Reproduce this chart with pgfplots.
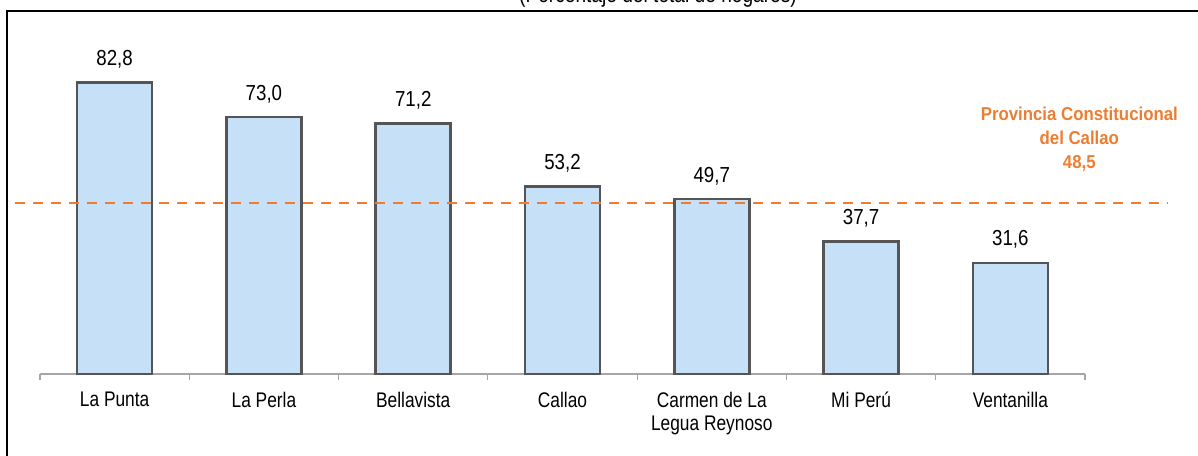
\documentclass[border=0pt]{standalone}
\usepackage{fontspec}
\setmainfont{Liberation Sans}
\newfontfamily\lblfont{Liberation Sans}[FakeStretch=0.82]
\newfontfamily\valfont{Liberation Sans}[FakeStretch=0.86]
\newfontfamily\orfont{Liberation Sans}[FakeStretch=0.9]
\usepackage{pgfplots}
\pgfplotsset{compat=1.18}
\definecolor{barfill}{RGB}{197,224,247}
\definecolor{barline}{RGB}{85,85,85}
\definecolor{orng}{RGB}{237,125,49}
\definecolor{axgray}{RGB}{166,166,166}
\begin{document}
\begin{tikzpicture}
\useasboundingbox (0,0) rectangle (898.5pt,341.25pt);
\clip (0,0) rectangle (898.5pt,341.25pt);
\draw[line width=1.3pt] (5.25pt,-20pt) rectangle (920pt,333pt);
\node[anchor=base, font=\lblfont\fontsize{17.5}{20}\selectfont] at (493.5pt,339.6pt) {(Porcentaje del total de hogares)};
\begin{axis}[
  at={(30pt,60.75pt)}, anchor=south west,
  scale only axis, width=783.75pt, height=237.6pt,
  xmin=-0.5, xmax=6.5, ymin=0, ymax=90,
  axis x line*=bottom, axis y line=none,
  x axis line style={draw=axgray, line width=0.8pt, -},
  xtick={0,...,6},
  xticklabels={La Punta, La Perla, Bellavista, Callao, {Carmen de La\\Legua Reynoso}, Mi Perú, Ventanilla},
  major tick length=0pt,
  minor xtick={-0.5,0.5,...,6.5},
  minor tick length=4.5pt,
  tick align=outside,
  minor tick style={draw=axgray, line width=0.8pt},
  xticklabel style={font=\lblfont\fontsize{15.85}{17.25}\selectfont, align=center, anchor=north, inner sep=0pt, yshift=-13.1pt},
  clip=false,
  /pgf/number format/assume math mode=true,
]
\addplot[ybar, bar width=56.25pt, fill=barfill, draw=barline, line width=1.9pt,
  nodes near coords={\pgfmathprintnumber[fixed,fixed zerofill,precision=1,use comma]{\pgfplotspointmeta}},
  every node near coord/.append style={anchor=base, yshift=12.75pt, font=\valfont\fontsize{16.3}{18}\selectfont, text=black}]
coordinates {(0,82.8) (1,73.0) (2,71.2) (3,53.2) (4,49.7) (5,37.7) (6,31.6)};
\addplot[orng, line width=1.6pt, dash pattern=on 7.5pt off 6pt, forget plot]
coordinates {(-0.667,48.5) (7.055,48.5)};
\node[anchor=base, text=orng, font=\orfont\fontsize{14}{18}\selectfont\bfseries] at (axis cs:6.462,71.96) {Provincia Constitucional};
\node[anchor=base, text=orng, font=\orfont\fontsize{14}{18}\selectfont\bfseries] at (axis cs:6.462,65.1) {del Callao};
\node[anchor=base, text=orng, font=\orfont\fontsize{14}{18}\selectfont\bfseries] at (axis cs:6.462,58.3) {48,5};
\end{axis}
\end{tikzpicture}
\end{document}
